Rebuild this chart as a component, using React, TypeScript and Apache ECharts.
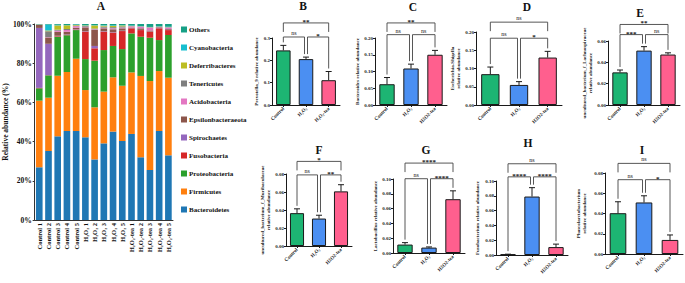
import React, { useEffect, useRef } from "react";
import * as echarts from "echarts";

const SERIF = '"Liberation Serif", "Times New Roman", serif';

// ---------- Panel A data ----------
const samples = [
  "Control 1", "Control 2", "Control 3", "Control 4", "Control 5",
  "H₂O₂ 1", "H₂O₂ 2", "H₂O₂ 3", "H₂O₂ 4", "H₂O₂ 5",
  "H₂O₂-tea 1", "H₂O₂-tea 2", "H₂O₂-tea 3", "H₂O₂-tea 4", "H₂O₂-tea 5",
];
const taxa = [
  "Bacteroidetes", "Firmicutes", "Proteobacteria", "Fusobacteria", "Spirochaetes",
  "Epsilonbacteraeota", "Acidobacteria", "Tenericutes", "Deferribacteres", "Cyanobacteria", "Others",
];
const bacteroidetes = [26.9, 35.2, 42.7, 45.4, 45.4, 42.2, 30.9, 39.1, 45.1, 40.3, 43.9, 32.0, 25.5, 45.4, 33.0];
const firmicutes = [34.0, 27.2, 30.9, 30.1, 36.9, 24.1, 26.6, 26.4, 27.7, 28.2, 31.4, 41.5, 45.4, 30.6, 39.6];
const proteobacteria = [6.3, 11.4, 19.9, 18.7, 14.6, 15.8, 23.8, 21.2, 16.0, 18.7, 19.9, 20.0, 22.1, 15.8, 21.8];
const fusobacteria = [0.2, 0.1, 0.3, 0.2, 0.2, 14.0, 6.3, 9.4, 6.8, 9.2, 2.6, 3.4, 3.1, 6.0, 2.5];
const spirochaetes = [30.6, 16.0, 0.2, 0.2, 0.2, 0.2, 1.2, 0.2, 0.2, 0.2, 0.1, 0.1, 0.1, 0.1, 0.1];
const epsilonbacteraeota = [1.5, 3.2, 2.0, 1.5, 0.8, 2.0, 8.2, 1.5, 1.5, 1.2, 0.3, 0.8, 0.5, 0.4, 0.4];
const acidobacteria = [0.1, 0.2, 0.6, 0.9, 0.8, 0.3, 0.3, 0.3, 0.5, 0.4, 0.6, 0.8, 1.5, 0.2, 0.8];
const tenericutes = [0.1, 3.0, 0.5, 0.5, 0.3, 0.4, 0.4, 0.6, 0.6, 0.6, 0.1, 0.1, 0.1, 0.1, 0.1];
const deferribacteres = [0.1, 0.4, 2.2, 1.8, 0.3, 0.3, 1.6, 0.5, 0.6, 0.5, 0.1, 0.1, 0.1, 0.1, 0.1];
const cyanobacteria = [0.0, 3.0, 0.3, 0.2, 0.2, 0.2, 0.2, 0.3, 0.3, 0.2, 0.2, 0.1, 0.1, 0.1, 0.2];
const others = [0.2, 0.3, 0.4, 0.5, 0.3, 0.5, 0.5, 0.5, 0.7, 0.5, 0.8, 1.1, 1.5, 1.2, 1.4];
const taxaValues = [
  bacteroidetes, firmicutes, proteobacteria, fusobacteria, spirochaetes,
  epsilonbacteraeota, acidobacteria, tenericutes, deferribacteres, cyanobacteria, others,
];
const taxaColors = [
  "#1f77b4", "#ff7f0e", "#2ca02c", "#d62728", "#9467bd",
  "#8c564b", "#e377c2", "#7f7f7f", "#bcbd22", "#17becf", "#16a086",
];
const aTicks = [0, 20, 40, 60, 80, 100];

// ---------- Panels B–I data ----------
const groupsSub = ["Control", "H₂O₂", "H₂O₂-tea"];
const groupsPlain = ["Control", "H₂O₂", "H2O2-tea"];
const barColors = ["#1db573", "#4b8ff2", "#ff5f8e"];

const meanB = [0.2445, 0.2055, 0.111];
const errB = [0.0225, 0.009, 0.039];
const meanC = [0.062, 0.109, 0.15];
const errC = [0.02, 0.013, 0.013];
const meanD = [0.0845, 0.055, 0.13];
const errD = [0.0195, 0.009, 0.017];
const meanE = [0.0306, 0.051, 0.0473];
const errE = [0.0022, 0.0037, 0.0016];
const meanF = [0.0365, 0.0305, 0.0607];
const errF = [0.0048, 0.0037, 0.0074];
const meanG = [0.0114, 0.0073, 0.0727];
const errG = [0.0026, 0.0009, 0.0113];
const meanH = [0.0008, 0.079, 0.0107];
const errH = [0.0003, 0.012, 0.004];
const meanI = [0.0403, 0.0509, 0.0139];
const errI = [0.0113, 0.0066, 0.0049];

const sigB = [[0, 2, "**"], [0, 1, "ns"], [1, 2, "*"]];
const sigC = [[0, 2, "**"], [0, 1, "ns"], [1, 2, "ns"]];
const sigD = [[0, 2, "ns"], [0, 1, "ns"], [1, 2, "*"]];
const sigE = [[0, 2, "**"], [0, 1, "***"], [1, 2, "ns"]];
const sigF = [[0, 2, "*"], [0, 1, "ns"], [1, 2, "**"]];
const sigG = [[0, 2, "****"], [0, 1, "ns"], [1, 2, "****"]];
const sigH = [[0, 2, "ns"], [0, 1, "****"], [1, 2, "****"]];
const sigI = [[0, 2, "ns"], [0, 1, "ns"], [1, 2, "*"]];

type Panel = {
  title: string; tx: number; ty: number;
  name: string; nameGap: number;
  labels: string[]; mean: number[]; err: number[]; sig: any[];
  max: number; step: number; dec: number; levels: number[];
  grid: { left: number; top: number; width: number; height: number };
};

const panels: Panel[] = [
  { title: "B", tx: 303, ty: 6, name: "Prevotella_9 relative abundance", nameGap: 12, labels: groupsSub,
    mean: meanB, err: errB, sig: sigB, max: 0.3, step: 0.1, dec: 1, levels: [0.3675, 0.3045],
    grid: { left: 272, top: 38, width: 68, height: 67 } },
  { title: "C", tx: 413, ty: 7, name: "Bacteroides relative abundance", nameGap: 13, labels: groupsPlain,
    mean: meanC, err: errC, sig: sigC, max: 0.2, step: 0.05, dec: 2, levels: [0.245, 0.21],
    grid: { left: 375, top: 38, width: 72, height: 67 } },
  { title: "D", tx: 527, ty: 7, name: "Escherichia-Shigella\nrelative abundance", nameGap: 12, labels: groupsPlain,
    mean: meanD, err: errD, sig: sigD, max: 0.2, step: 0.05, dec: 2, levels: [0.227, 0.183],
    grid: { left: 476, top: 32, width: 86, height: 73 } },
  { title: "E", tx: 640, ty: 13, name: "uncultured_bacterium_f_Lachnospiraceae\nrelative abundance", nameGap: 13, labels: groupsPlain,
    mean: meanE, err: errE, sig: sigE, max: 0.06, step: 0.02, dec: 2, levels: [0.0755, 0.066],
    grid: { left: 608, top: 41, width: 72, height: 64 } },
  { title: "F", tx: 319, ty: 150, name: "uncultured_bacterium_f_Muribaculaceae\nrelative abundance", nameGap: 15, labels: groupsPlain,
    mean: meanF, err: errF, sig: sigF, max: 0.08, step: 0.02, dec: 2, levels: [0.094, 0.079],
    grid: { left: 286, top: 174, width: 66, height: 72 } },
  { title: "G", tx: 426, ty: 150, name: "Lactobacillus relative abundance", nameGap: 14, labels: groupsPlain,
    mean: meanG, err: errG, sig: sigG, max: 0.1, step: 0.02, dec: 2, levels: [0.1215, 0.1004],
    grid: { left: 393, top: 179, width: 72, height: 74 } },
  { title: "H", tx: 528, ty: 143, name: "Fusobacterium relative abundance", nameGap: 16, labels: groupsPlain,
    mean: meanH, err: errH, sig: sigH, max: 0.1, step: 0.02, dec: 2, levels: [0.1233, 0.1056],
    grid: { left: 496, top: 181, width: 72, height: 74 } },
  { title: "I", tx: 642, ty: 150, name: "Phascolarctobacterium\nrelative abundance", nameGap: 18, labels: groupsPlain,
    mean: meanI, err: errI, sig: sigI, max: 0.08, step: 0.02, dec: 2, levels: [0.0895, 0.0734],
    grid: { left: 605, top: 173, width: 78, height: 81 } },
];

const INK = "#1a1a1a";
const TITLE_FONT = `bold 11.5px ${SERIF}`;

function buildOption() {
  const grids: any[] = [{ left: 34, top: 24, width: 139, height: 196 }];
  const xAxes: any[] = [{
    type: "category", gridIndex: 0, data: samples,
    axisLine: { lineStyle: { color: "#333", width: 1 } },
    axisTick: { show: false },
    axisLabel: { rotate: 90, fontSize: 6.5, fontWeight: "bold", fontFamily: SERIF, color: "#111", margin: 3, interval: 0 },
  }];
  const yAxes: any[] = [{
    type: "value", gridIndex: 0, min: aTicks[0], max: aTicks[aTicks.length - 1], interval: 20,
    name: "Relative abundance (%)", nameLocation: "middle", nameGap: 19,
    nameTextStyle: { fontSize: 7.5, fontWeight: "bold", fontFamily: SERIF, color: "#111" },
    axisLine: { show: true, lineStyle: { color: "#333", width: 1 } },
    axisTick: { show: true, length: 2, lineStyle: { color: "#333" } },
    splitLine: { show: false },
    axisLabel: { formatter: "{value}%", fontSize: 7.5, fontWeight: "bold", fontFamily: SERIF, color: "#111", margin: 3 },
  }];
  const series: any[] = taxa.map((t, k) => ({
    name: t, type: "bar", stack: "a", xAxisIndex: 0, yAxisIndex: 0,
    barCategoryGap: "28%", data: taxaValues[k], itemStyle: { color: taxaColors[k] },
  }));

  const graphics: any[] = [{
    type: "text", x: 101, y: 6,
    style: { text: "A", font: TITLE_FONT, fill: "#111", textAlign: "center", textVerticalAlign: "middle" },
  }];

  panels.forEach((p, idx) => {
    const gi = idx + 1;
    grids.push(p.grid);
    xAxes.push({
      type: "category", gridIndex: gi, data: p.labels,
      axisLine: { lineStyle: { color: INK, width: 1 } },
      axisTick: { show: true, length: 2, alignWithLabel: true, lineStyle: { color: INK } },
      axisLabel: { rotate: 45, fontSize: 5, fontWeight: "bold", fontFamily: SERIF, color: INK, margin: 3, interval: 0 },
    });
    yAxes.push({
      type: "value", gridIndex: gi, min: 0, max: p.max, interval: p.step,
      name: p.name, nameLocation: "middle", nameGap: p.nameGap,
      nameTextStyle: { fontSize: 5, fontWeight: "bold", fontFamily: SERIF, color: INK, lineHeight: 6 },
      axisLine: { show: true, lineStyle: { color: INK, width: 1 } },
      axisTick: { show: true, length: 2, lineStyle: { color: INK } },
      splitLine: { show: false },
      axisLabel: { formatter: (v: number) => v.toFixed(p.dec), fontSize: 5, fontWeight: "bold", fontFamily: SERIF, color: INK, margin: 2 },
    });
    series.push({
      type: "bar", xAxisIndex: gi, yAxisIndex: gi, barWidth: "64%",
      data: p.mean.map((v, i) => ({ value: v, itemStyle: { color: barColors[i] } })),
      itemStyle: { borderColor: INK, borderWidth: 1 },
    });
    series.push({
      type: "custom", xAxisIndex: gi, yAxisIndex: gi, z: 3, clip: false,
      data: p.mean.map((m, i) => [i, m, p.err[i]]),
      renderItem: (params: any, api: any) => {
        const i = api.value(0), m = api.value(1), e = api.value(2);
        const p0 = api.coord([i, m]);
        const p1 = api.coord([i, m + e]);
        const st = { stroke: INK, lineWidth: 1 };
        return {
          type: "group",
          children: [
            { type: "line", shape: { x1: p0[0], y1: p0[1], x2: p1[0], y2: p1[1] }, style: st },
            { type: "line", shape: { x1: p1[0] - 3, y1: p1[1], x2: p1[0] + 3, y2: p1[1] }, style: st },
          ],
        };
      },
    });
    series.push({
      type: "custom", xAxisIndex: gi, yAxisIndex: gi, z: 4, clip: false,
      data: p.sig.map((_, k) => [k, 0]),
      renderItem: (params: any, api: any) => {
        const [a, b, label] = p.sig[params.dataIndex];
        const outer = Math.abs(b - a) === 2;
        const level = outer ? p.levels[0] : p.levels[1];
        const y = api.coord([0, level])[1];
        let xa = api.coord([a, 0])[0];
        let xb = api.coord([b, 0])[0];
        if (!outer) {
          if (a === 1) xa += 1.5;
          if (b === 1) xb -= 1.5;
        }
        const ya = outer ? y + 9 : api.coord([a, p.mean[a] + p.err[a]])[1] - 3;
        const yb = outer ? y + 9 : api.coord([b, p.mean[b] + p.err[b]])[1] - 3;
        const isNs = label === "ns";
        return {
          type: "group",
          children: [
            { type: "polyline", shape: { points: [[xa, ya], [xa, y], [xb, y], [xb, yb]] },
              style: { stroke: "#444", lineWidth: 0.9, fill: null } },
            { type: "text",
              style: { text: label, x: (xa + xb) / 2, y: isNs ? y - 1 : y + 2.5,
                font: isNs ? `6px ${SERIF}` : `bold 7px ${SERIF}`, fill: INK,
                textAlign: "center", textVerticalAlign: "bottom" } },
          ],
        };
      },
    });
    graphics.push({
      type: "text", x: p.tx, y: p.ty,
      style: { text: p.title, font: TITLE_FONT, fill: "#111", textAlign: "center", textVerticalAlign: "middle" },
    });
  });

  return {
    animation: false,
    backgroundColor: "#ffffff",
    textStyle: { fontFamily: SERIF },
    legend: {
      orient: "vertical", left: 176, top: 21, itemWidth: 6, itemHeight: 6, itemGap: 11,
      icon: "rect", selectedMode: false, data: [...taxa].reverse(),
      textStyle: { fontSize: 7, fontWeight: "bold", fontFamily: SERIF, color: "#111", padding: [0, 0, 0, -3] },
    },
    grid: grids,
    xAxis: xAxes,
    yAxis: yAxes,
    series,
    graphic: graphics,
  };
}

export default function App() {
  const ref = useRef<HTMLDivElement>(null);
  useEffect(() => {
    if (!ref.current) return;
    const chart = echarts.init(ref.current, null, { renderer: "svg" });
    chart.setOption(buildOption() as any);
    return () => chart.dispose();
  }, []);
  return (
    <div
      ref={ref}
      style={{ position: "fixed", left: 0, top: 0, width: 685, height: 283, background: "#fff" }}
    />
  );
}
